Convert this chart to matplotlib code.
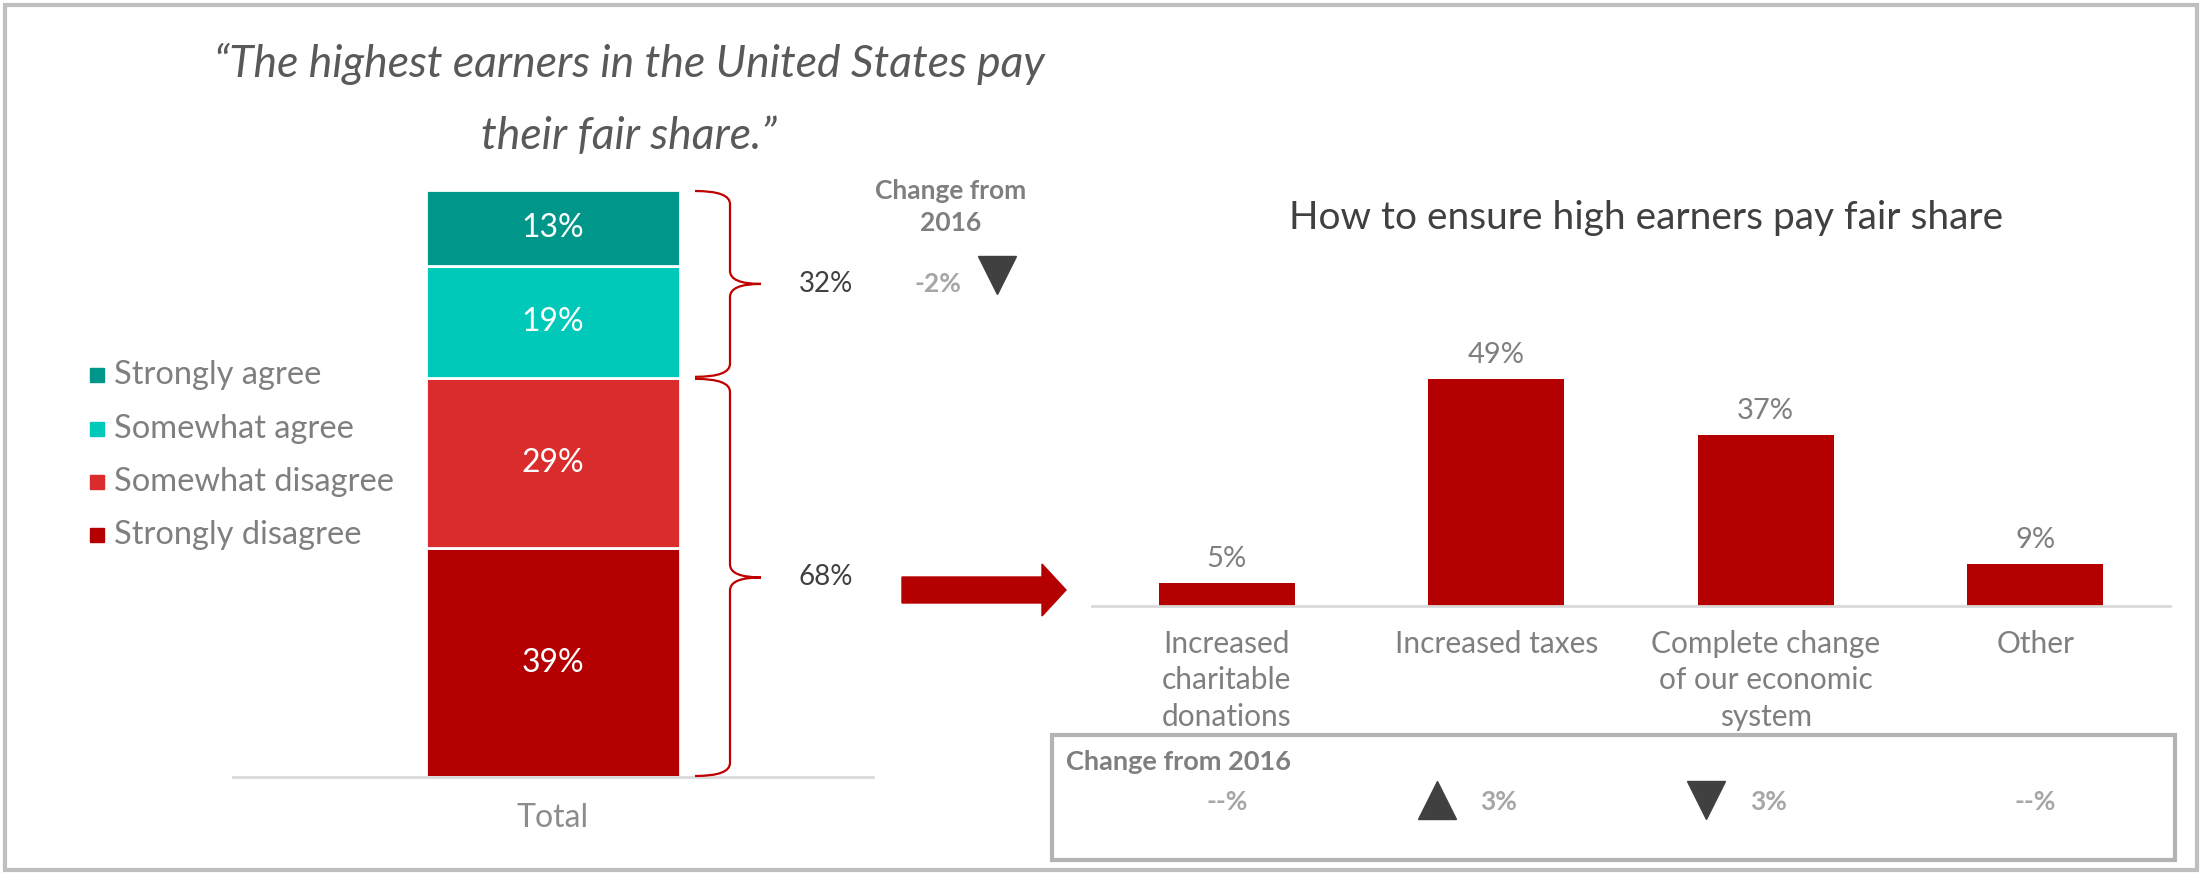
import matplotlib
matplotlib.use("Agg")
import matplotlib.pyplot as plt
from matplotlib.transforms import Affine2D, blended_transform_factory
from matplotlib.patches import Rectangle, PathPatch, FancyArrow
from matplotlib.path import Path
from matplotlib.lines import Line2D

# ---------------- data ----------------
agree_levels = ["Strongly agree", "Somewhat agree", "Somewhat disagree", "Strongly disagree"]
agree_values = [13, 19, 29, 39]
agree_colors = ["#00968A", "#00C9BA", "#DA2C2C", "#B40000"]
total_label = "Total"
net_agree_change = -2  # change from 2016 for net agree

methods = ["Increased\ncharitable\ndonations", "Increased taxes",
           "Complete change\nof our economic\nsystem", "Other"]
method_values = [5, 49, 37, 9]
method_change = [None, 3, -3, None]

title_left_lines = ["\u201cThe highest earners in the United States pay",
                    "their fair share.\u201d"]
title_right = "How to ensure high earners pay fair share"

# ---------------- figure ----------------
W, H = 2202, 875
plt.rcParams["font.family"] = ["Lato", "DejaVu Sans"]
fig = plt.figure(figsize=(W / 100, H / 100), dpi=100)
pix = Affine2D().scale(1 / W, -1 / H).translate(0, 1) + fig.transFigure


def fax(x, y, w, h):
    return fig.add_axes([x / W, 1 - (y + h) / H, w / W, h / H])


# outer frame
fig.add_artist(Rectangle((5, 5), W - 10, H - 10, transform=pix, fill=False,
                         edgecolor="#BFBFBF", linewidth=3))

# title left
for line, yy in zip(title_left_lines, [64, 137]):
    fig.text(629 / W, 1 - yy / H, line, ha="center", va="center", fontsize=32,
             style="italic", color="#595959")

# ---------------- left stacked bar ----------------
ax1 = fax(233, 190, 640, 587)
ax1.set_xlim(-1.26, 1.26)
ax1.set_ylim(0, 100)
bottom = 0
for lab, val, col in reversed(list(zip(agree_levels, agree_values, agree_colors))):
    ax1.bar(0, val, width=1.0, bottom=bottom, color=col, edgecolor="white", linewidth=2)
    ax1.text(0, bottom + val / 2, f"{val}%", ha="center", va="center",
             color="white", fontsize=23)
    bottom += val
for s in ["top", "left", "right"]:
    ax1.spines[s].set_visible(False)
ax1.spines["bottom"].set_color("#D9D9D9")
ax1.spines["bottom"].set_linewidth(2)
ax1.set_yticks([])
ax1.set_xticks([0])
ax1.set_xticklabels([total_label], fontsize=23, color="#8C8C8C")
ax1.tick_params(axis="x", length=0, pad=19)

# legend (manual)
leg_y = [375, 429, 482, 535]
for lab, col, yy in zip(agree_levels, agree_colors, leg_y):
    fig.add_artist(Rectangle((90, yy - 7), 14, 14, transform=pix, color=col))
    fig.text(114 / W, 1 - yy / H, lab, ha="left", va="center", fontsize=23.5,
             color="#7F7F7F")

# braces
net_agree = agree_values[0] + agree_values[1]
net_disagree = agree_values[2] + agree_values[3]


def ypx(v):
    return H - ax1.transData.transform((0, v))[1]


def brace(v_lo, v_hi, xl=695, xm=730, xt=761, r=13):
    yt = ypx(v_hi) + 1
    yb = ypx(v_lo) - 1
    ym = (yt + yb) / 2
    verts = [(xl, yt), (xm, yt), (xm, yt + r),
             (xm, ym - r), (xm, ym), (xt, ym),
             (xm, ym), (xm, ym + r),
             (xm, yb - r), (xm, yb), (xl, yb)]
    codes = [Path.MOVETO, Path.CURVE3, Path.CURVE3,
             Path.LINETO, Path.CURVE3, Path.CURVE3,
             Path.CURVE3, Path.CURVE3,
             Path.LINETO, Path.CURVE3, Path.CURVE3]
    fig.add_artist(PathPatch(Path(verts, codes), transform=pix, fill=False,
                             edgecolor="#C00000", linewidth=1.6))
    return ym


ym_a = brace(net_disagree, 100)
ym_d = brace(0, net_disagree)
fig.text(826 / W, 1 - ym_a / H, f"{net_agree}%", ha="center", va="center",
         fontsize=20, color="#404040")
fig.text(826 / W, 1 - ym_d / H, f"{net_disagree}%", ha="center", va="center",
         fontsize=20, color="#404040")

# change from 2016 (left)
fig.text(951 / W, 1 - 191 / H, "Change from", ha="center", va="center",
         fontsize=19, weight="bold", color="#7F7F7F")
fig.text(951 / W, 1 - 223 / H, "2016", ha="center", va="center",
         fontsize=19, weight="bold", color="#7F7F7F")
fig.text(938 / W, 1 - ym_a / H, f"{net_agree_change}%", ha="center", va="center",
         fontsize=19, weight="bold", color="#A6A6A6")
fig.add_artist(Line2D([997], [ym_a - 9], transform=pix,
                      marker="v" if net_agree_change < 0 else "^",
                      markersize=27, color="#404040", linestyle="none"))

# arrow
fig.add_artist(FancyArrow(902, 590, 164, 0, width=26, head_width=52, head_length=24,
                          transform=pix, color="#B40000", length_includes_head=True))

# ---------------- right bar chart ----------------
fig.text(1646 / W, 1 - 218 / H, title_right, ha="center", va="center", fontsize=28,
         color="#404040")

ax2 = fax(1092, 328, 1078, 278)
ax2.set_xlim(-0.5, 3.5)
ax2.set_ylim(0, 60)
xs = list(range(len(methods)))
ax2.bar(xs, method_values, width=0.505, color="#B40000")
for x, v in zip(xs, method_values):
    ax2.annotate(f"{v}%", (x, v), xytext=(0, 11.5), textcoords="offset points",
                 ha="center", va="baseline", fontsize=21, color="#7F7F7F")
for s in ["top", "left", "right"]:
    ax2.spines[s].set_visible(False)
ax2.spines["bottom"].set_color("#D9D9D9")
ax2.spines["bottom"].set_linewidth(2)
ax2.set_yticks([])
ax2.set_xticks(xs)
ax2.set_xticklabels(methods, fontsize=21.5, color="#7F7F7F", linespacing=1.37)
ax2.tick_params(axis="x", length=0, pad=17)

# change box
fig.add_artist(Rectangle((1052, 735), 1123, 125, transform=pix, fill=False,
                         edgecolor="#B3B3B3", linewidth=3))
fig.text(1066 / W, 1 - 762 / H, "Change from 2016", ha="left", va="center",
         fontsize=19.5, weight="bold", color="#7F7F7F")
bt = blended_transform_factory(ax2.transData, pix)
for x, c in zip(xs, method_change):
    if c is None:
        ax2.text(x, 802, "--%", transform=bt, ha="center", va="center",
                 fontsize=19, weight="bold", color="#A6A6A6")
    else:
        ax2.text(x + 0.01, 802, f"{abs(c)}%", transform=bt, ha="center", va="center",
                 fontsize=19, weight="bold", color="#A6A6A6")
        ax2.plot([x - 0.22], [800], transform=bt, marker="^" if c > 0 else "v",
                 markersize=27, color="#404040", linestyle="none", clip_on=False)

fig.savefig("out.png", dpi=100)
